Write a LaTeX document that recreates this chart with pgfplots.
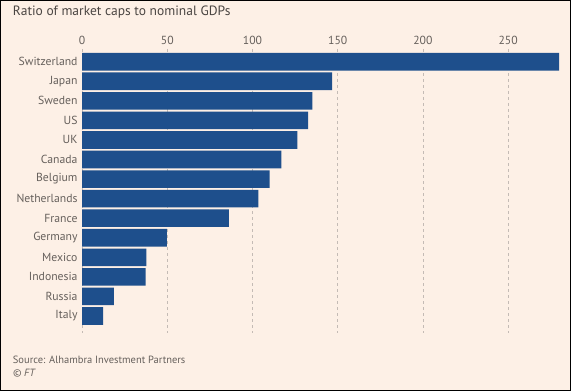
\documentclass[border=0pt]{standalone}
\usepackage{pgfplots}
\pgfplotsset{compat=1.18}
\usepackage{fontspec}
\setmainfont{PT Sans}
\definecolor{bg}{HTML}{FDF0E6}
\definecolor{barblue}{HTML}{1E4F8C}
\definecolor{lbl}{HTML}{66605C}
\definecolor{ttl}{HTML}{4A4542}
\definecolor{gridc}{HTML}{C4BBB5}
\begin{document}
\begin{tikzpicture}
\path[fill=bg, draw=black, line width=1bp] (0.5bp,0.5bp) rectangle (570.5bp,390.5bp);
\node[anchor=base west, inner sep=0pt, font=\fontsize{13.5bp}{15bp}\selectfont, text=ttl] at (12.7bp,375bp) {Ratio of market caps to nominal GDPs};
\begin{axis}[
  at={(82.1bp,58bp)}, anchor=south west,
  scale only axis, width=477.1bp, height=284bp,
  xbar, bar width=0.9, bar shift=0pt,
  xmin=0, xmax=280,
  ymin=-0.65, ymax=13.87, y dir=reverse,
  ytick={0,...,13},
  yticklabels={Switzerland,Japan,Sweden,US,UK,Canada,Belgium,Netherlands,France,Germany,Mexico,Indonesia,Russia,Italy},
  xtick={0,50,100,150,200,250},
  xticklabel pos=top,
  axis line style={draw=none},
  major tick length=0pt,
  xmajorgrids, grid style={gridc, dash pattern=on 3bp off 3bp, line width=0.5bp},
  /pgf/number format/assume math mode=true,
  tick label style={font=\fontsize{11.7bp}{13bp}\selectfont, text=lbl},
  yticklabel style={inner sep=0pt, xshift=-4.4bp},
  xticklabel style={inner sep=0pt, yshift=4bp},
  axis background/.style={fill=none},
]
\addplot[fill=barblue, draw=none] coordinates {
(280.4,0) (146.8,1) (135.1,2) (132.7,3) (126.3,4) (116.9,5) (110.1,6) (103.4,7) (86.2,8) (49.8,9) (37.7,10) (37.3,11) (18.7,12) (12.4,13)
};
\end{axis}
\node[anchor=base west, inner sep=0pt, font=\fontsize{10.5bp}{12bp}\selectfont, text=lbl] at (12.7bp,28bp) {Source: Alhambra Investment Partners};
\node[anchor=base west, inner sep=0pt, font=\fontsize{10.5bp}{12bp}\selectfont\itshape, text=lbl] at (12.7bp,15bp) {\textcopyright\ FT};
\end{tikzpicture}
\end{document}
